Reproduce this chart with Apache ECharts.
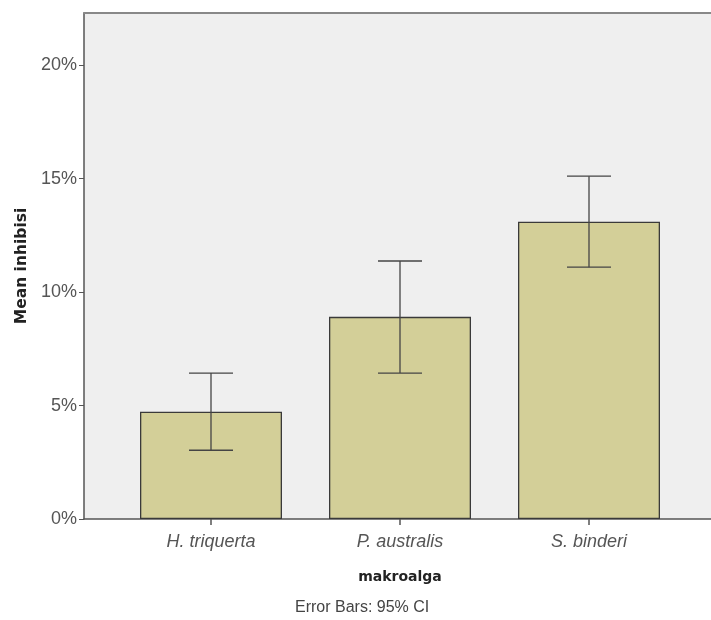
<!DOCTYPE html>
<html>
<head>
<meta charset="utf-8">
<script src="https://cdn.jsdelivr.net/npm/echarts@6/dist/echarts.min.js"></script>
<style>
  html, body { margin: 0; padding: 0; background: #fff; }
  #main { width: 711px; height: 620px; }
</style>
</head>
<body>
<div id="main"></div>
<script>
// data
var categories = ['H. triquerta', 'P. australis', 'S. binderi'];
var meanValues = [4.73, 8.91, 13.10];
var ciLower = [3.03, 6.43, 11.10];
var ciUpper = [6.43, 11.37, 15.11];
var yTicks = [0, 5, 10, 15, 20];

var font = 'Liberation Sans, Arial, sans-serif';
var boldFont = 'DejaVu Sans, Verdana, sans-serif';
var yMax = 22.3;

var errorData = categories.map(function (c, i) {
    return [i, ciLower[i], ciUpper[i]];
});

var myChart = echarts.init(document.getElementById('main'));

var option = {
    animation: false,
    textStyle: { fontFamily: font },
    grid: [
        // background frame, open on the right like the cropped original
        { left: 84, top: 13, right: 0, bottom: 101, show: true,
          backgroundColor: '#efefef', borderWidth: 0 },
        // bar area
        { left: 116.5, top: 13, width: 567, bottom: 101 }
    ],
    xAxis: [
        { gridIndex: 0, type: 'value', min: 0, max: 1, show: true,
          axisLine: { show: true, lineStyle: { color: '#555', width: 1.5 } },
          axisTick: { show: false }, axisLabel: { show: false }, splitLine: { show: false } },
        { gridIndex: 1, type: 'category', data: categories,
          axisLine: { show: false },
          axisTick: { show: true, alignWithLabel: true, length: 6, lineStyle: { color: '#555', width: 1.5 } },
          axisLabel: { fontFamily: font, fontSize: 18, fontStyle: 'italic', color: '#555', margin: 14 },
          name: 'makroalga', nameLocation: 'middle', nameGap: 51,
          nameTextStyle: { fontFamily: boldFont, fontSize: 14, fontWeight: 'bold', color: '#222' } },
        // top edge of the frame
        { gridIndex: 0, type: 'value', position: 'top', min: 0, max: 1, show: true,
          axisLine: { show: true, lineStyle: { color: '#888', width: 2 } },
          axisTick: { show: false }, axisLabel: { show: false }, splitLine: { show: false } }
    ],
    yAxis: [
        { gridIndex: 0, type: 'value', min: 0, max: yMax, interval: 5,
          axisLine: { show: true, lineStyle: { color: '#555', width: 1.5 } },
          axisTick: { show: true, length: 5, lineStyle: { color: '#555' },
                      customValues: yTicks },
          axisLabel: { fontFamily: font, fontSize: 18, color: '#555', margin: 7,
                       customValues: yTicks,
                       formatter: function (v) { return v + '%'; } },
          splitLine: { show: false },
          name: 'Mean inhibisi', nameLocation: 'middle', nameGap: 54, nameRotate: 90,
          nameTextStyle: { fontFamily: boldFont, fontSize: 15.5, fontWeight: 'bold', color: '#222' } },
        { gridIndex: 1, type: 'value', min: 0, max: yMax, show: false }
    ],
    graphic: [
        { type: 'text', left: 295, top: 600,
          style: { text: 'Error Bars: 95% CI', font: '16px ' + font, fill: '#444' } }
    ],
    series: [
        {
            type: 'bar', xAxisIndex: 1, yAxisIndex: 1,
            data: meanValues, barWidth: 142,
            itemStyle: { color: '#d3cf98', borderColor: '#3a3a3a', borderWidth: 1.3 }
        },
        {
            type: 'custom', xAxisIndex: 1, yAxisIndex: 1,
            data: errorData,
            renderItem: function (params, api) {
                var x = api.value(0);
                var lo = api.coord([x, api.value(1)]);
                var hi = api.coord([x, api.value(2)]);
                var half = 22;
                var st = { stroke: '#444', lineWidth: 1.3 };
                return {
                    type: 'group',
                    children: [
                        { type: 'line', shape: { x1: lo[0], y1: lo[1], x2: hi[0], y2: hi[1] }, style: st },
                        { type: 'line', shape: { x1: lo[0] - half, y1: lo[1], x2: lo[0] + half, y2: lo[1] }, style: st },
                        { type: 'line', shape: { x1: hi[0] - half, y1: hi[1], x2: hi[0] + half, y2: hi[1] }, style: st }
                    ]
                };
            },
            z: 10
        }
    ]
};

myChart.setOption(option);
</script>
</body>
</html>
